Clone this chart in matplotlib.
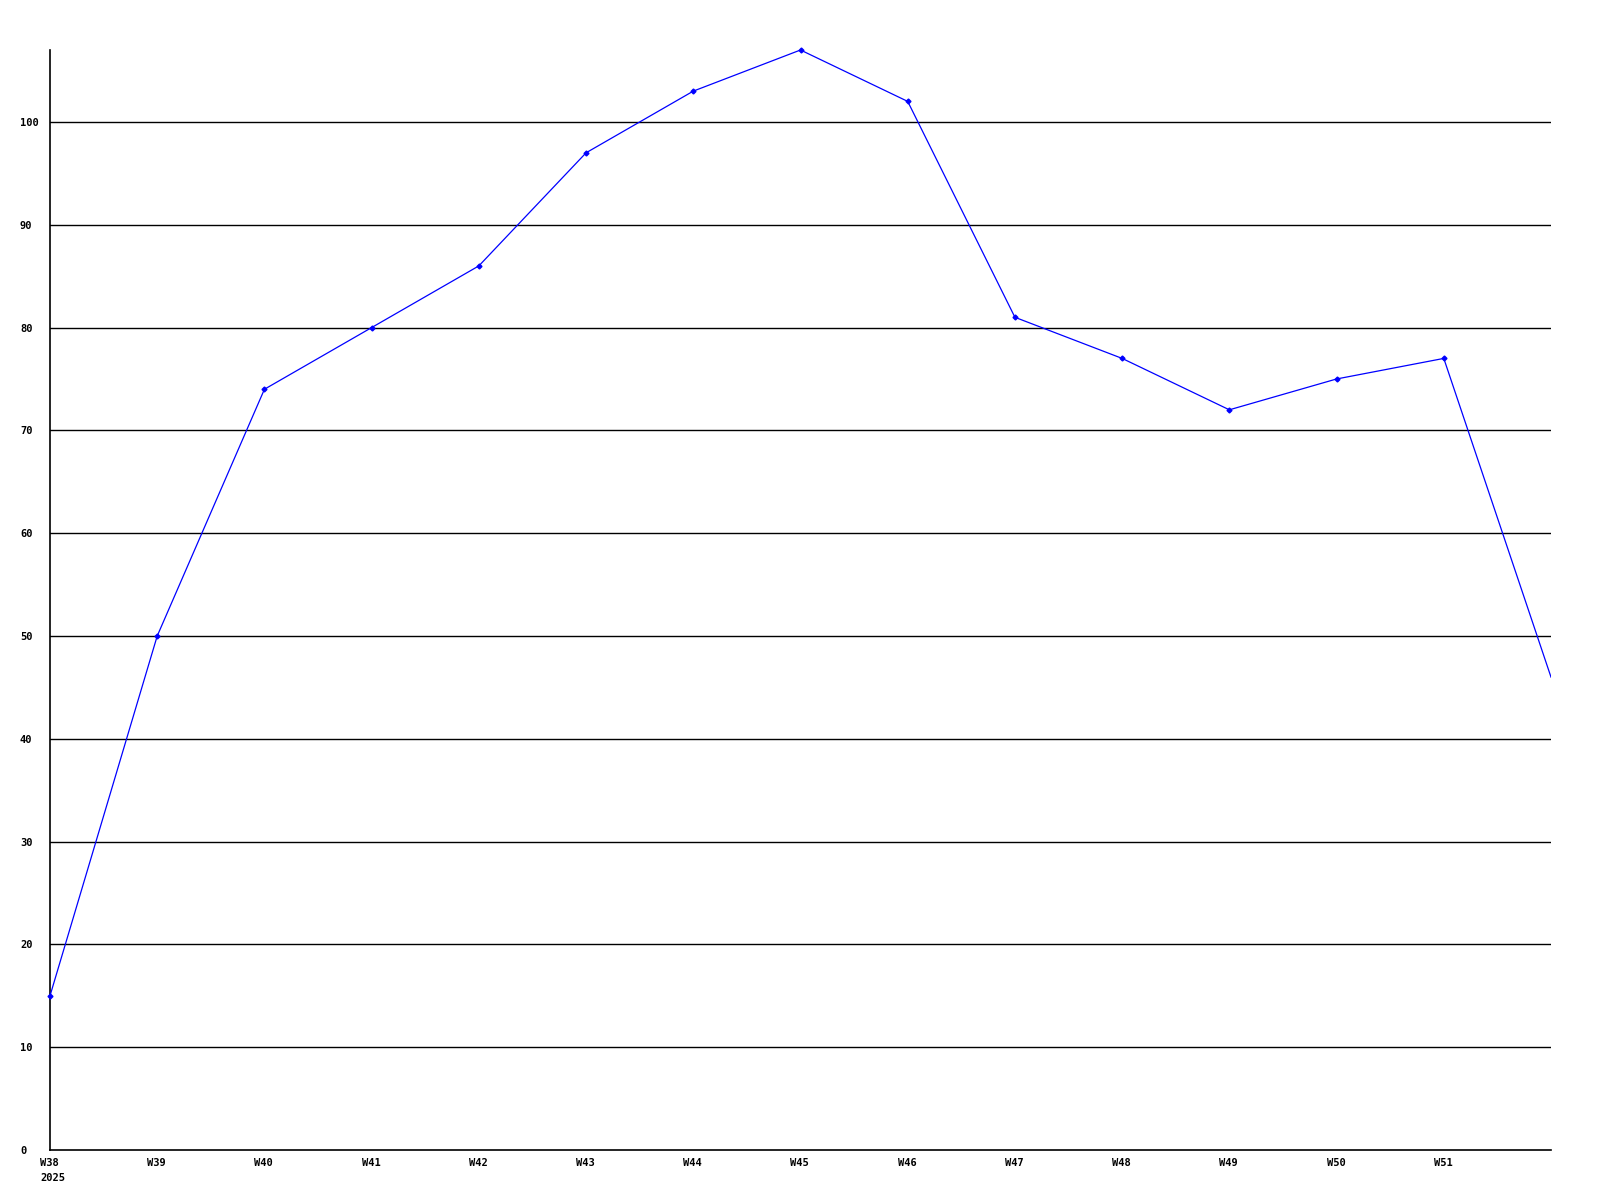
import matplotlib
matplotlib.use('Agg')
import matplotlib.pyplot as plt
import matplotlib.transforms as mtransforms

# weekly values
weeks = ['W38', 'W39', 'W40', 'W41', 'W42', 'W43', 'W44', 'W45',
         'W46', 'W47', 'W48', 'W49', 'W50', 'W51', 'W52']
values = [15, 50, 74, 80, 86, 97, 103, 107, 102, 81, 77, 72, 75, 77, 46]
tick_labels = ['W38\n2025'] + weeks[1:14]
y_ticks = [0, 10, 20, 30, 40, 50, 60, 70, 80, 90, 100]

fig = plt.figure(figsize=(16, 12), dpi=100)
ax = fig.add_axes([50 / 1600, 50 / 1200, 1501 / 1600, 1100 / 1200])

x = list(range(len(values)))
# grid lines
for v in y_ticks[1:]:
    ax.axhline(v, color='black', lw=1.0, zorder=1)

ax.plot(x, values, color='#0000ff', lw=0.9, zorder=3)
ax.plot(x[:-1], values[:-1], ls='none', marker='D', ms=2.5, color='#0000ff',
        zorder=4, clip_on=False)

ax.set_xlim(0, 14)
ax.set_ylim(0, 107)

for s in ['top', 'right']:
    ax.spines[s].set_visible(False)
for s in ['left', 'bottom']:
    ax.spines[s].set_linewidth(1.2)
    ax.spines[s].set_color('black')

font = dict(family='DejaVu Sans Mono', weight='bold', size=7.5)
ax.set_xticks(x[:14])
ax.set_xticklabels(tick_labels, ha='left', va='top', linespacing=1.6, **font)
ax.set_yticks(y_ticks)
ax.set_yticklabels([str(v) for v in y_ticks], ha='left', **font)
ax.tick_params(axis='both', length=0)
ax.tick_params(axis='y', pad=30 * 0.72)   # left edge of labels ~20px from figure edge
ax.tick_params(axis='x', pad=6)

# x labels start ~10px left of each tick
offset = mtransforms.ScaledTranslation(-10 / 100, 0, fig.dpi_scale_trans)
for lbl in ax.get_xticklabels():
    lbl.set_transform(lbl.get_transform() + offset)

fig.savefig('out.png', dpi=100, facecolor='white')
